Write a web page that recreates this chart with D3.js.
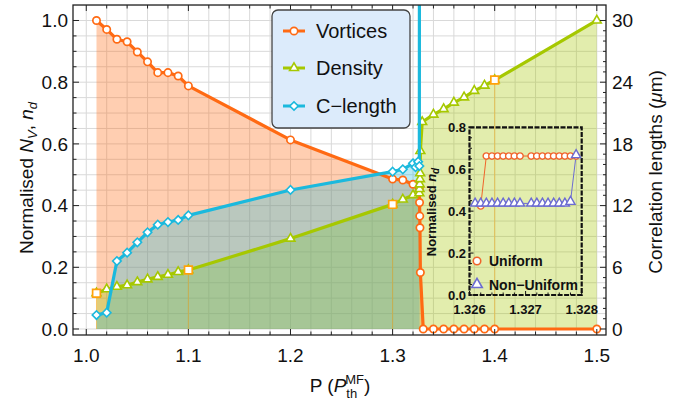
<!DOCTYPE html>
<html><head><meta charset="utf-8">
<script src="https://cdn.jsdelivr.net/npm/d3@7"></script>
<style>
body{margin:0;background:#fff}
svg{display:block}
text{font-family:"Liberation Sans",Arial,Helvetica,sans-serif;fill:#111}
</style>
</head><body>
<svg id="c" width="684" height="405"></svg>
<script>
// ---------------- data ----------------
const vortP = [1.01,1.02,1.03,1.04,1.05,1.06,1.07,1.08,1.09,1.10,1.20,1.30,1.31,1.32,1.3262,1.3264,1.3266,1.3268,1.3272,1.33,1.34,1.35,1.36,1.37,1.38,1.39,1.40,1.50];
const vortN = [1.000,0.971,0.939,0.931,0.898,0.866,0.831,0.831,0.820,0.788,0.613,0.486,0.483,0.469,0.455,0.410,0.366,0.328,0.183,0,0,0,0,0,0,0,0,0];

const densP = [1.01,1.02,1.03,1.04,1.05,1.06,1.07,1.08,1.09,1.10,1.20,1.30,1.31,1.32,1.3262,1.3264,1.3266,1.3268,1.3270,1.3272,1.329,1.34,1.35,1.36,1.37,1.38,1.39,1.40,1.50];
const densN = [0.116,0.129,0.137,0.142,0.152,0.161,0.169,0.176,0.185,0.191,0.293,0.404,0.420,0.434,0.440,0.454,0.469,0.486,0.505,0.577,0.671,0.695,0.713,0.734,0.751,0.772,0.789,0.807,1.000];

const clenP = [1.01,1.02,1.03,1.04,1.05,1.06,1.07,1.08,1.09,1.10,1.20,1.30,1.31,1.32,1.3225,1.325,1.3262,1.3264];
const clenUm = [1.36,1.59,6.61,7.42,8.43,9.40,10.14,10.40,10.60,11.05,13.52,15.30,15.53,16.11,15.73,16.27,15.85,80];

const markP = [1.01,1.10,1.30,1.40];
const markN = [0.116,0.191,0.404,0.807];

const xTickVals = [1.0,1.1,1.2,1.3,1.4,1.5];
const xTickLabels = ["1.0","1.1","1.2","1.3","1.4","1.5"];
const yTickVals = [0,0.2,0.4,0.6,0.8,1.0];
const yTickLabels = ["0.0","0.2","0.4","0.6","0.8","1.0"];
const yRTickVals = [0,6,12,18,24,30];
const yRTickLabels = ["0","6","12","18","24","30"];

// inset data
const uniP = [1.3262,1.3263,1.3264,1.3265,1.3266,1.3267,1.3268,1.3269,1.3271,1.3272,1.3273,1.3274,1.3275,1.3276,1.3277,1.3278,1.3279];
const uniN = [0.425,0.663,0.663,0.663,0.663,0.663,0.663,0.663,0.663,0.663,0.663,0.663,0.663,0.663,0.663,0.663,0.663];
const nonP = [1.3261,1.3262,1.3263,1.3264,1.3265,1.3266,1.3267,1.3268,1.3269,1.3271,1.3272,1.3273,1.3274,1.3275,1.3276,1.3277,1.3278,1.3279];
const nonN = [0.437,0.437,0.437,0.437,0.437,0.437,0.437,0.437,0.437,0.437,0.437,0.437,0.437,0.437,0.437,0.437,0.445,0.668];
const insetXVals = [1.326,1.327,1.328];
const insetXLabels = ["1.326","1.327","1.328"];
const insetYVals = [0,0.2,0.4,0.6,0.8];
const insetYLabels = ["0.0","0.2","0.4","0.6","0.8"];

const legendNames = ["Vortices","Density","C\u2212length"];

// ---------------- styles ----------------
const cOr = "#ff6a13", cGr = "#a6c800", cCy = "#1bb9dd", cSq = "#ffa20a";
const cUni = "#f0642a", cNon = "#6c6cd2";

const svg = d3.select("#c");
const X0=73, X1=606, Y0=5, Y1=335;
const x = d3.scaleLinear().domain([0.987,1.509]).range([X0,X1]);
const y = d3.scaleLinear().domain([-0.01945,1.0502]).range([Y1,Y0]);
const yR = d3.scaleLinear().domain([-0.01945*30,1.0502*30]).range([Y1,Y0]);

svg.append("defs").append("clipPath").attr("id","clip")
  .append("rect").attr("x",X0).attr("y",Y0).attr("width",X1-X0).attr("height",Y1-Y0);

const plot = svg.append("g").attr("clip-path","url(#clip)");

// grid
plot.append("g").selectAll("line").data(x.ticks(26)).join("line")
  .attr("x1",d=>x(d)).attr("x2",d=>x(d)).attr("y1",Y0).attr("y2",Y1)
  .attr("stroke","#d9d9d9").attr("stroke-width",1);
plot.append("g").selectAll("line").data(y.ticks(21)).join("line")
  .attr("y1",d=>y(d)).attr("y2",d=>y(d)).attr("x1",X0).attr("x2",X1)
  .attr("stroke","#d9d9d9").attr("stroke-width",1);

const vort = vortP.map((p,i)=>({p,v:vortN[i]}));
const dens = densP.map((p,i)=>({p,v:densN[i]}));
const clen = clenP.map((p,i)=>({p,v:clenUm[i]}));
const marks = markP.map((p,i)=>({p,v:markN[i]}));

// fills
const areaL = d3.area().x(d=>x(d.p)).y0(y(0)).y1(d=>y(d.v));
const areaR = d3.area().x(d=>x(d.p)).y0(yR(0)).y1(d=>yR(d.v));
plot.append("path").datum(vort).attr("d",areaL).attr("fill",cOr).attr("fill-opacity",0.33);
plot.append("path").datum(dens).attr("d",areaL).attr("fill",cGr).attr("fill-opacity",0.32);
plot.append("path").datum(clen).attr("d",areaR).attr("fill",cCy).attr("fill-opacity",0.3);

// drop lines from marked points
plot.append("g").selectAll("line").data(marks).join("line")
  .attr("x1",d=>x(d.p)).attr("x2",d=>x(d.p)).attr("y1",d=>y(d.v)).attr("y2",y(0))
  .attr("stroke",cSq).attr("stroke-opacity",0.45).attr("stroke-width",1);

const lineL = d3.line().x(d=>x(d.p)).y(d=>y(d.v));
const lineR = d3.line().x(d=>x(d.p)).y(d=>yR(d.v));

const symCirc = d3.symbol().type(d3.symbolCircle).size(42)();
const symTri = d3.symbol().type(d3.symbolTriangle).size(34)();
const symDia = d3.symbol().type(d3.symbolSquare).size(36)();
const symSq = d3.symbol().type(d3.symbolSquare).size(60)();

// vortices
plot.append("path").datum(vort).attr("d",lineL).attr("fill","none").attr("stroke",cOr).attr("stroke-width",3.2).attr("stroke-linejoin","round");
plot.append("g").selectAll("path").data(vort).join("path")
  .attr("d",symCirc).attr("transform",d=>`translate(${x(d.p)},${y(d.v)})`)
  .attr("fill","#fff").attr("stroke",cOr).attr("stroke-width",1.7);
// density
plot.append("path").datum(dens).attr("d",lineL).attr("fill","none").attr("stroke",cGr).attr("stroke-width",3.2).attr("stroke-linejoin","round");
plot.append("g").selectAll("path").data(dens).join("path")
  .attr("d",symTri).attr("transform",d=>`translate(${x(d.p)},${y(d.v)})`)
  .attr("fill","#fff").attr("stroke",cGr).attr("stroke-width",1.6);
// c-length
plot.append("path").datum(clen).attr("d",lineR).attr("fill","none").attr("stroke",cCy).attr("stroke-width",3.2).attr("stroke-linejoin","round");
plot.append("g").selectAll("path").data(clen.filter(d=>d.v<31)).join("path")
  .attr("d",symDia).attr("transform",d=>`translate(${x(d.p)},${yR(d.v)}) rotate(45)`)
  .attr("fill","#fff").attr("stroke",cCy).attr("stroke-width",1.6);
// marked squares
plot.append("g").selectAll("path").data(marks).join("path")
  .attr("d",symSq).attr("transform",d=>`translate(${x(d.p)},${y(d.v)})`)
  .attr("fill","#fff").attr("stroke",cSq).attr("stroke-width",1.7);

// frame
svg.append("rect").attr("x",X0).attr("y",Y0).attr("width",X1-X0).attr("height",Y1-Y0)
  .attr("fill","none").attr("stroke","#222").attr("stroke-width",1.3);

// ticks
const axes = svg.append("g").attr("stroke","#222").attr("stroke-width",1);
const isIn = (arr,v)=>arr.some(m=>Math.abs(m-v)<1e-9);
x.ticks(26).forEach(v=>{
  const L = isIn(xTickVals,v)?6:3.5;
  axes.append("line").attr("x1",x(v)).attr("x2",x(v)).attr("y1",Y1).attr("y2",Y1-L);
  axes.append("line").attr("x1",x(v)).attr("x2",x(v)).attr("y1",Y0).attr("y2",Y0+L);
});
y.ticks(21).filter(v=>v>=0 && v<=1.0001).forEach(v=>{
  axes.append("line").attr("x1",X0).attr("x2",X0+(isIn(yTickVals,v)?6:3.5)).attr("y1",y(v)).attr("y2",y(v));
});
yR.ticks(31).filter(v=>v>=0 && v<=30).forEach(v=>{
  axes.append("line").attr("x1",X1).attr("x2",X1-(isIn(yRTickVals,v)?6:3)).attr("y1",yR(v)).attr("y2",yR(v));
});

// tick labels
const fs = 19;
svg.append("g").selectAll("text").data(xTickVals).join("text")
  .attr("x",d=>x(d)).attr("y",362).attr("text-anchor","middle").attr("font-size",fs)
  .text((d,i)=>xTickLabels[i]);
svg.append("g").selectAll("text").data(yTickVals).join("text")
  .attr("x",68).attr("y",d=>y(d)+6.8).attr("text-anchor","end").attr("font-size",fs)
  .text((d,i)=>yTickLabels[i]);
svg.append("g").selectAll("text").data(yRTickVals).join("text")
  .attr("x",612).attr("y",d=>yR(d)+6.8).attr("text-anchor","start").attr("font-size",fs)
  .text((d,i)=>yRTickLabels[i]);

// axis titles
const tb = svg.append("text").attr("x",340).attr("y",392).attr("text-anchor","middle").attr("font-size",fs);
tb.append("tspan").text("P  (");
tb.append("tspan").attr("font-style","italic").text("P");
tb.append("tspan").attr("font-size",13).attr("dy",6).text("th");
tb.append("tspan").attr("font-size",13).attr("dx",-12).attr("dy",-14).text("MF");
tb.append("tspan").attr("dy",8).text(")");

const tl = svg.append("text").attr("transform","translate(33,178) rotate(-90)").attr("text-anchor","middle").attr("font-size",fs);
tl.append("tspan").text("Normalised ");
tl.append("tspan").attr("font-style","italic").text("N");
tl.append("tspan").attr("font-style","italic").attr("font-size",13).attr("dy",4).text("V");
tl.append("tspan").attr("dy",-4).text(", ");
tl.append("tspan").attr("font-style","italic").text("n");
tl.append("tspan").attr("font-style","italic").attr("font-size",13).attr("dy",4).text("d");

const tr = svg.append("text").attr("transform","translate(662,172) rotate(-90)").attr("text-anchor","middle").attr("font-size",fs);
tr.append("tspan").text("Correlation lengths (");
tr.append("tspan").attr("font-style","italic").text("\u03bc");
tr.append("tspan").text("m)");

// legend
const lg = svg.append("g");
lg.append("rect").attr("x",272).attr("y",10).attr("width",138).attr("height",118).attr("rx",6)
  .attr("fill","#dcebfb").attr("stroke","#444").attr("stroke-width",1.3);
const legCols = [cOr,cGr,cCy], legSyms = [symCirc,symTri,symDia], legY = [31,68,106];
legendNames.forEach((n,i)=>{
  lg.append("line").attr("x1",283).attr("x2",305).attr("y1",legY[i]).attr("y2",legY[i])
    .attr("stroke",legCols[i]).attr("stroke-width",3);
  lg.append("path").attr("d",legSyms[i])
    .attr("transform",`translate(294,${legY[i]})`+(i===2?" rotate(45)":""))
    .attr("fill","#fff").attr("stroke",legCols[i]).attr("stroke-width",1.6);
  lg.append("text").attr("x",316).attr("y",legY[i]+7).attr("font-size",20).text(n);
});

// ---------------- inset ----------------
const xi = d3.scaleLinear().domain([1.326,1.328]).range([469.5,581.7]);
const yi = d3.scaleLinear().domain([0,0.8]).range([295,127.3]);
const ins = svg.append("g");
const iax = ins.append("g").attr("stroke","#111").attr("stroke-width",1);
yi.ticks(16).forEach(v=>{
  iax.append("line").attr("x1",469.5).attr("x2",469.5+(isIn(insetYVals,v)?4:2.5)).attr("y1",yi(v)).attr("y2",yi(v));
});
xi.ticks(10).forEach(v=>{
  iax.append("line").attr("x1",xi(v)).attr("x2",xi(v)).attr("y1",295).attr("y2",295-(isIn(insetXVals,v)?4:2.5));
});
ins.append("rect").attr("x",469.5).attr("y",127.3).attr("width",112.2).attr("height",167.7)
  .attr("fill","none").attr("stroke","#111").attr("stroke-width",2.2).attr("stroke-dasharray","5,1.5");

const uni = uniP.map((p,i)=>({p,v:uniN[i]}));
const non = nonP.map((p,i)=>({p,v:nonN[i]}));
const lineI = d3.line().x(d=>xi(d.p)).y(d=>yi(d.v));
const symCircS = d3.symbol().type(d3.symbolCircle).size(32)();
const symTriS = d3.symbol().type(d3.symbolTriangle).size(36)();
const symCircL = d3.symbol().type(d3.symbolCircle).size(44)();
const symTriL = d3.symbol().type(d3.symbolTriangle).size(48)();
ins.append("path").datum(uni).attr("d",lineI).attr("fill","none").attr("stroke",cUni).attr("stroke-width",1);
ins.append("path").datum(non).attr("d",lineI).attr("fill","none").attr("stroke",cNon).attr("stroke-width",1);
ins.append("g").selectAll("path").data(uni).join("path").attr("d",symCircS)
  .attr("transform",d=>`translate(${xi(d.p)},${yi(d.v)})`).attr("fill","#fff").attr("stroke",cUni).attr("stroke-width",1.4);
ins.append("g").selectAll("path").data(non).join("path").attr("d",symTriS)
  .attr("transform",d=>`translate(${xi(d.p)},${yi(d.v)})`).attr("fill","#fff").attr("stroke",cNon).attr("stroke-width",1.4);

ins.append("g").selectAll("text").data(insetYVals).join("text")
  .attr("x",466).attr("y",d=>yi(d)+4.7).attr("text-anchor","end").attr("font-size",13).attr("font-weight","bold")
  .text((d,i)=>insetYLabels[i]);
ins.append("g").selectAll("text").data(insetXVals).join("text")
  .attr("x",d=>xi(d)).attr("y",313.5).attr("text-anchor","middle").attr("font-size",13).attr("font-weight","bold")
  .text((d,i)=>insetXLabels[i]);
const til = ins.append("text").attr("transform","translate(436,212) rotate(-90)").attr("text-anchor","middle")
  .attr("font-size",13).attr("font-weight","bold");
til.append("tspan").text("Normalised ");
til.append("tspan").attr("font-style","italic").text("n");
til.append("tspan").attr("font-style","italic").attr("font-size",10).attr("dy",3).text("d");

// inset legend
ins.append("path").attr("d",symCircL).attr("transform","translate(477,261)").attr("fill","#fff").attr("stroke",cUni).attr("stroke-width",1.6);
ins.append("text").attr("x",489).attr("y",266).attr("font-size",14).attr("font-weight","bold").text("Uniform");
ins.append("path").attr("d",symTriL).attr("transform","translate(477,284.5)").attr("fill","#fff").attr("stroke",cNon).attr("stroke-width",1.6);
ins.append("text").attr("x",489).attr("y",289.5).attr("font-size",14).attr("font-weight","bold").text("Non\u2212Uniform");
</script>
</body></html>
